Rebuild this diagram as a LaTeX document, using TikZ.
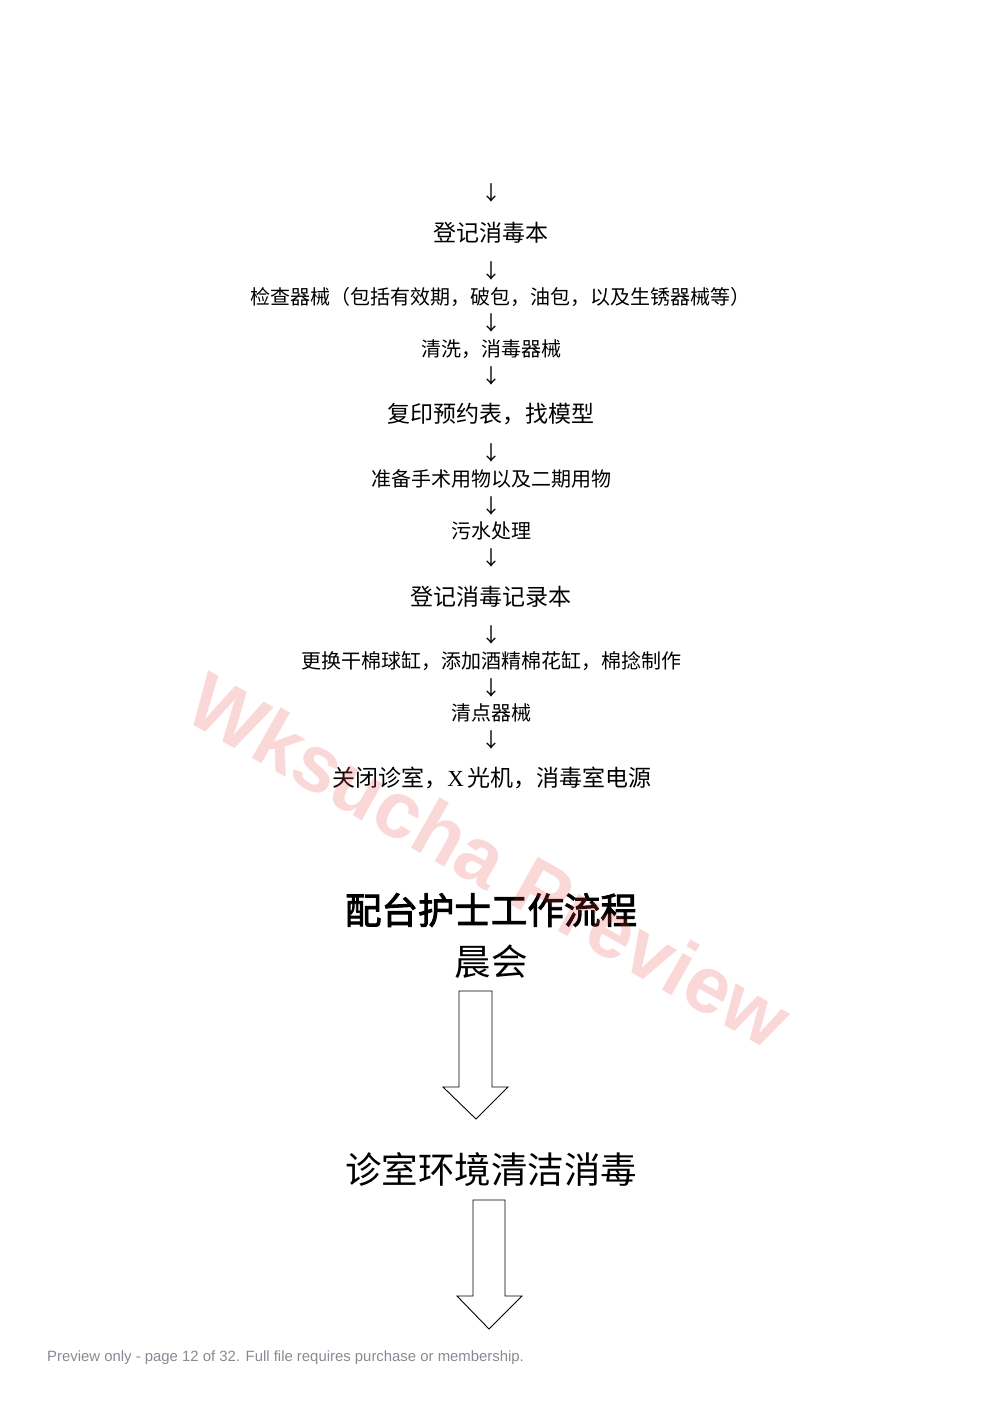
\documentclass[tikz,border=0pt]{standalone}
\usepackage{fontspec}
\usepackage{tikz}
\usetikzlibrary{positioning, arrows.meta}
\newfontfamily\cjk{Noto Sans CJK SC}
\newfontfamily\cjkbf{Noto Sans CJK SC}[FakeBold=2.5]
\newfontfamily\latinsf{Liberation Sans}
\newfontfamily\latinrm{Liberation Serif}
\definecolor{wmark}{RGB}{235,60,60}
\definecolor{footgray}{RGB}{135,138,148}
\tikzset{
  step1/.style = {
    inner sep = 0pt,
    font = \cjk\fontsize{20}{24}\selectfont,
  },
  step2/.style = {
    inner sep = 0pt,
    font = \cjk\fontsize{23}{28}\selectfont,
  },
  step3/.style = {
    inner sep = 0pt,
    font = \cjk\fontsize{36.5}{42}\selectfont,
  },
  down1/.style = {
    inner sep = 0pt,
    font = \cjk\fontsize{20}{24}\selectfont,
  }
}
\tikzset{
  arrow1/.style = {
    draw = black, line width = 0.9pt, fill = white, line join = miter,
  }
}

\begin{document}
\begin{tikzpicture}[x=1pt, y=-1pt]
        \useasboundingbox (0,0) rectangle (993,1404);
        \node[step2](1) at (491,233){登记消毒本};
        \node[step1](2) at (500,297){检查器械（包括有效期，破包，油包，以及生锈器械等）};
        \node[step1](3) at (491,349){清洗，消毒器械};
        \node[step2](4) at (491,414){复印预约表，找模型};
        \node[step1](5) at (491,479){准备手术用物以及二期用物};
        \node[step1](6) at (491,531){污水处理};
        \node[step2](7) at (491,597){登记消毒记录本};
        \node[step1](8) at (491,661){更换干棉球缸，添加酒精棉花缸，棉捻制作};
        \node[step1](9) at (491,713){清点器械};
        \node[step2](10) at (492,778){关闭诊室，{\latinrm X}\,光机，消毒室电源};
        \foreach \y in {193,271,323,376,453,506,558,635,688,740}
          \node[down1] at (491,\y){↓};
        \node[step3, font = \cjkbf\fontsize{36.5}{42}\selectfont](11) at (491,910){配台护士工作流程};
        \node[step3](12) at (491,962){晨会};
        \node[step3](13) at (491,1169){诊室环境清洁消毒};
        \draw[arrow1] (459,991) -- (492,991) -- (492,1087) -- (508,1087) -- (476,1119)
          -- (443,1087) -- (459,1087) -- cycle;
        \draw[arrow1] (473,1200) -- (505,1200) -- (505,1296) -- (522,1296) -- (489,1329)
          -- (457,1296) -- (473,1296) -- cycle;
        \node[anchor = west, inner sep = 0pt, text = footgray,
          font = \latinsf\fontsize{14.9}{18}\selectfont](14) at (47,1358)
          {Preview only - page 12 of 32. Full file requires purchase or membership.};
        \node[rotate = -29.5, inner sep = 0pt, text = wmark, text opacity = 0.2,
          font = \latinsf\bfseries\fontsize{80}{84}\selectfont](15) at (490,860){Wksucha Preview};
    \end{tikzpicture}
\end{document}
